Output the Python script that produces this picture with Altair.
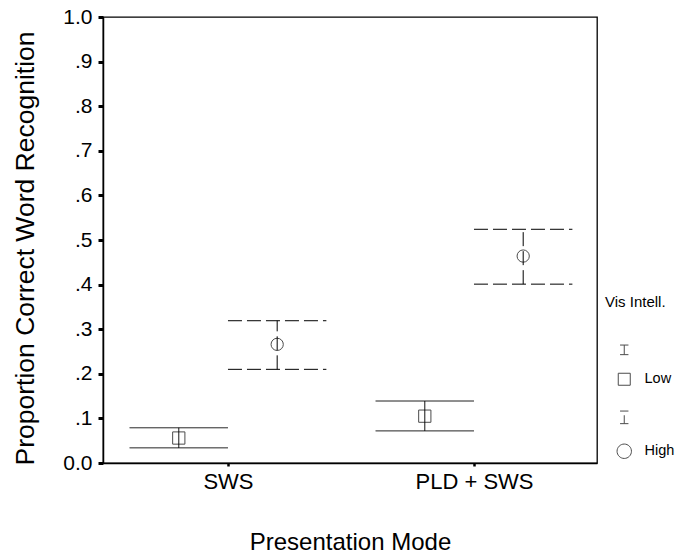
import altair as alt
import pandas as pd

# ---- data ----
modes = ["SWS", "SWS", "PLD + SWS", "PLD + SWS"]
vis_intell = ["Low", "High", "Low", "High"]
mean_vals = [0.056, 0.266, 0.105, 0.464]
ci_lower = [0.034, 0.210, 0.072, 0.401]
ci_upper = [0.079, 0.319, 0.139, 0.524]

mode_order = ["SWS", "PLD + SWS"]
group_order = ["Low", "High"]
y_ticks = [0.0, 0.1, 0.2, 0.3, 0.4, 0.5, 0.6, 0.7, 0.8, 0.9, 1.0]

df = pd.DataFrame({
    "mode": modes,
    "group": vis_intell,
    "mean": mean_vals,
    "lo": ci_lower,
    "hi": ci_upper,
})

FONT = "Liberation Sans"
mode_js = "[" + ",".join("'" + m + "'" for m in mode_order) + "]"

# legend symbols: marker with the error-bar glyph drawn above it (unit = sqrt(size)/2 px)
LOW_PATH = ("M-1,-1H1V1H-1Z"
            "M-0.7,-5.7H0.7M0,-5.7V-4.1M-0.7,-4.1H0.7")
HIGH_PATH = ("M-1.2,0A1.2,1.2,0,1,0,1.2,0A1.2,1.2,0,1,0,-1.2,0Z"
             "M-0.7,-6.7H0.7M0,-6.0V-4.6M-0.7,-4.6H0.7")

x_axis = alt.Axis(
    values=[1, 2],
    labelExpr=f"{mode_js}[datum.value - 1]",
    title="Presentation Mode",
    grid=False,
    labelFont=FONT, labelFontSize=22, labelColor="black",
    labelBaseline="alphabetic", labelPadding=22,
    tickSize=3, tickWidth=2.5, tickColor="black",
    domainColor="black", domainWidth=1.5,
    titleFont=FONT, titleFontSize=24, titleFontWeight="normal", titleColor="black",
    titleBaseline="alphabetic", titleY=86,
)
x_scale = alt.Scale(domain=[0.492, 2.5], nice=False, zero=False)

y_axis = alt.Axis(
    values=y_ticks,
    labelExpr="datum.value == 0 ? '0.0' : datum.value == 1 ? '1.0' : replace(format(datum.value, '.1f'), '0.', '.')",
    title="Proportion Correct Word Recognition",
    grid=False,
    labelFont=FONT, labelFontSize=21, labelColor="black", labelPadding=6,
    tickSize=5, tickWidth=3, tickColor="black",
    domainColor="black", domainWidth=1.5,
    titleFont=FONT, titleFontSize=26.5, titleFontWeight="normal", titleColor="black",
    titleAngle=-90, titleAlign="center", titleBaseline="alphabetic",
    titleX=-70, titleY=231,
)
y_scale = alt.Scale(domain=[0, 1], nice=False)

dash = alt.StrokeDash(
    "group:N",
    scale=alt.Scale(domain=group_order, range=[[1, 0], [14, 5]]),
    legend=None,
)

base = alt.Chart(df).transform_calculate(
    idx=f"indexof({mode_js}, datum.mode) + 1"
).transform_calculate(
    xc="datum.idx + (datum.group === 'Low' ? -0.2 : 0.2)",
    xa="datum.idx + (datum.group === 'Low' ? -0.4 : 0)",
    xb="datum.idx + (datum.group === 'Low' ? 0 : 0.4)",
)

lo_bar = base.mark_rule(color="black", strokeWidth=1).encode(
    x=alt.X("xa:Q", scale=x_scale, axis=x_axis),
    x2="xb:Q",
    y=alt.Y("lo:Q", scale=y_scale, axis=y_axis),
    strokeDash=dash,
)
hi_bar = base.mark_rule(color="black", strokeWidth=1).encode(
    x=alt.X("xa:Q", scale=x_scale, axis=x_axis),
    x2="xb:Q",
    y=alt.Y("hi:Q", scale=y_scale, axis=y_axis),
    strokeDash=dash,
)
stem = base.mark_rule(color="black", strokeWidth=1).encode(
    x=alt.X("xc:Q", scale=x_scale, axis=x_axis),
    y=alt.Y("lo:Q", scale=y_scale, axis=y_axis),
    y2="hi:Q",
    strokeDash=dash,
)

points = base.mark_point(color="black", filled=False, size=150, strokeWidth=1).encode(
    x=alt.X("xc:Q", scale=x_scale, axis=x_axis),
    y=alt.Y("mean:Q", scale=y_scale, axis=y_axis),
    shape=alt.Shape(
        "group:N",
        scale=alt.Scale(domain=group_order, range=["square", "circle"]),
        legend=None,
    ),
)

legend = alt.Legend(
    title="Vis Intell.",
    orient="none", legendX=502, legendY=278, direction="vertical",
    padding=0,
    symbolSize=144, symbolStrokeWidth=1, symbolStrokeColor="black",
    symbolFillColor="transparent",
    symbolOffset=12, labelOffset=13,
    titleFont=FONT, titleFontSize=15, titleFontWeight="normal", titleColor="black",
    titlePadding=62, rowPadding=21,
    labelFont=FONT, labelFontSize=14.5, labelColor="black",
)

# zero-size carrier of the legend (marker + error-bar glyph per group)
legend_carrier = base.mark_point(color="black", filled=False, size=0, strokeWidth=1).encode(
    x=alt.X("xc:Q", scale=x_scale, axis=x_axis),
    y=alt.Y("mean:Q", scale=y_scale, axis=y_axis),
    shape=alt.Shape(
        "group:N",
        scale=alt.Scale(domain=group_order, range=[LOW_PATH, HIGH_PATH]),
        legend=legend,
    ),
)

chart = alt.layer(lo_bar, hi_bar, stem, points, legend_carrier).resolve_scale(
    shape="independent"
).properties(
    width=494,
    height=446,
    autosize=alt.AutoSizeParams(type="none"),
    padding={"left": 103, "top": 17, "right": 85, "bottom": 94},
    background="white",
).configure_view(
    stroke="black", strokeWidth=1.3
)

chart.save("out.html", embed_options={"renderer": "svg", "actions": False})
